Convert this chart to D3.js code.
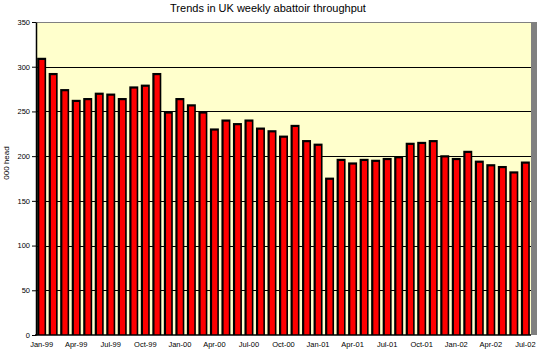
<!DOCTYPE html>
<html>
<head>
<meta charset="utf-8">
<script src="https://cdn.jsdelivr.net/npm/d3@7/dist/d3.min.js"></script>
<style>
  html, body { margin: 0; padding: 0; background: #ffffff; }
  svg { display: block; font-family: Arial, "Liberation Sans", sans-serif; }
</style>
</head>
<body>
<script>
const months = [
  "Jan-99","Feb-99","Mar-99","Apr-99","May-99","Jun-99","Jul-99","Aug-99","Sep-99","Oct-99","Nov-99","Dec-99",
  "Jan-00","Feb-00","Mar-00","Apr-00","May-00","Jun-00","Jul-00","Aug-00","Sep-00","Oct-00","Nov-00","Dec-00",
  "Jan-01","Feb-01","Mar-01","Apr-01","May-01","Jun-01","Jul-01","Aug-01","Sep-01","Oct-01","Nov-01","Dec-01",
  "Jan-02","Feb-02","Mar-02","Apr-02","May-02","Jun-02","Jul-02"
];
const throughput = [
  310,293,275,263,265,271,270,265,278,280,293,250,
  265,258,250,231,241,237,241,232,229,223,235,218,
  214,176,197,193,197,196,198,200,215,216,218,201,
  198,206,195,191,189,183,194
];
const yTicks = [0,50,100,150,200,250,300,350];
const xTickLabels = months.filter((m, i) => i % 3 === 0);
const titleText = "Trends in UK weekly abattoir throughput";
const yLabel = "000 head";

const W = 537, H = 354;
const m = { left: 36, right: 6, top: 22, bottom: 19 };
const svg = d3.select("body").append("svg").attr("width", W).attr("height", H);

const x = d3.scaleBand().domain(months).range([m.left, W - m.right]).paddingInner(0.22).paddingOuter(0.1);
const y = d3.scaleLinear().domain([0, 350]).range([H - m.bottom, m.top]);

// plot background
svg.append("rect").attr("x", m.left).attr("y", m.top)
  .attr("width", W - m.right - m.left).attr("height", y(0) - m.top)
  .attr("fill", "#FFFFCC");
// right grey edge
svg.append("rect").attr("x", W - m.right).attr("y", m.top)
  .attr("width", m.right).attr("height", y(0) - m.top).attr("fill", "#808080");

// gridlines
svg.append("g").selectAll("line").data(yTicks.filter(d => d > 0 && d < 350)).join("line")
  .attr("x1", m.left).attr("x2", W - m.right)
  .attr("y1", d => Math.round(y(d)) + 0.5).attr("y2", d => Math.round(y(d)) + 0.5)
  .attr("stroke", "#000").attr("stroke-width", 1);
// top border
svg.append("line").attr("x1", m.left).attr("x2", W - m.right)
  .attr("y1", Math.round(y(350)) + 0.5).attr("y2", Math.round(y(350)) + 0.5)
  .attr("stroke", "#808080").attr("stroke-width", 1);

// bars
const bars = svg.append("g").selectAll("g").data(throughput).join("g");
bars.append("rect")
  .attr("x", (d, i) => x(months[i])).attr("y", d => y(d))
  .attr("width", x.bandwidth()).attr("height", d => y(0) - y(d))
  .attr("fill", "#000");
bars.append("rect")
  .attr("x", (d, i) => x(months[i]) + 2.2).attr("y", d => y(d) + 2.2)
  .attr("width", x.bandwidth() - 3.8).attr("height", d => Math.max(0, y(0) - y(d) - 2.2))
  .attr("fill", "#FF0000");

// axes
const yAxis = d3.axisLeft(y).tickValues(yTicks).tickSize(4).tickPadding(2).tickSizeOuter(0);
const gy = svg.append("g").attr("transform", `translate(${m.left},0)`).call(yAxis);
gy.select(".domain").attr("stroke", "#000").attr("stroke-width", 1.5);
gy.selectAll("text").attr("font-size", "7.5px").attr("fill", "#000")
  .attr("font-family", "Arial, 'Liberation Sans', sans-serif");

svg.append("line").attr("x1", m.left - 1).attr("x2", W - m.right)
  .attr("y1", y(0)).attr("y2", y(0)).attr("stroke", "#000").attr("stroke-width", 1.5);

const xAxis = d3.axisBottom(x).tickValues(xTickLabels).tickSize(0).tickPadding(7);
const gx = svg.append("g").attr("transform", `translate(0,${y(0)})`).call(xAxis);
gx.select(".domain").remove();
gx.selectAll("text").attr("font-size", "7.5px").attr("fill", "#000")
  .attr("font-family", "Arial, 'Liberation Sans', sans-serif");

// title
svg.append("text").attr("x", 268).attr("y", 12).attr("text-anchor", "middle")
  .attr("font-size", "11px").attr("fill", "#000").text(titleText);

// y label
svg.append("text").attr("transform", `translate(9,163) rotate(-90)`)
  .attr("text-anchor", "middle").attr("font-size", "8px").attr("fill", "#000").text(yLabel);
</script>
</body>
</html>
